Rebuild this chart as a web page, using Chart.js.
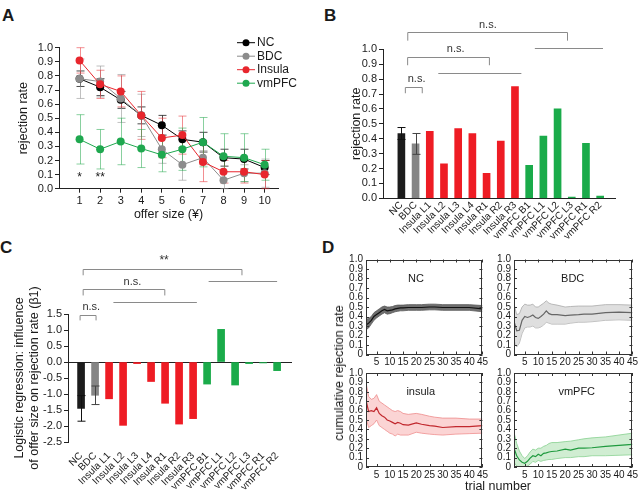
<!DOCTYPE html>
<html>
<head>
<meta charset="utf-8">
<script src="https://cdn.jsdelivr.net/npm/chart.js@4.4.0/dist/chart.umd.min.js"></script>
<style>
    html, body { margin: 0; padding: 0; background: #fff; }
    body { width: 640px; height: 493px; position: relative; overflow: hidden;
           font-family: "Liberation Sans", Arial, sans-serif; color: #1a1a1a; }
    canvas { position: absolute; }
    .lbl { position: absolute; white-space: nowrap; }
    .panel { font-weight: bold; font-size: 17px; }
    .axis { font-size: 12.5px; }
</style>
</head>
<body>
<div class="lbl panel" style="left:2px;top:6px">A</div>
<div class="lbl panel" style="left:324px;top:6px">B</div>
<div class="lbl panel" style="left:0px;top:238px">C</div>
<div class="lbl panel" style="left:322px;top:238px">D</div>

<canvas id="chartA" width="320" height="206" style="left:0;top:20px"></canvas>
<canvas id="chartB" width="320" height="222" style="left:320px;top:18px"></canvas>
<canvas id="chartC" width="320" height="248" style="left:0;top:245px"></canvas>
<canvas id="chartNC" width="147" height="120" style="left:343px;top:250px"></canvas>
<canvas id="chartBDC" width="150" height="120" style="left:490px;top:250px"></canvas>
<canvas id="chartInsula" width="147" height="121" style="left:343px;top:364px"></canvas>
<canvas id="chartVmpfc" width="150" height="121" style="left:490px;top:364px"></canvas>

<div class="lbl axis" style="left:339px;top:373px;transform:translate(-50%,-50%) rotate(-90deg)">cumulative rejection rate</div>
<div class="lbl axis" style="left:498px;top:486px;transform:translate(-50%,-50%)">trial number</div>

<script>
// ── Panel A: rejection rate by offer size ─────────────
const offerSizes = [1, 2, 3, 4, 5, 6, 7, 8, 9, 10];
const ncRate     = [0.78, 0.72, 0.63, 0.52, 0.45, 0.35, 0.33, 0.22, 0.21, 0.15];
const ncErr      = [0.055, 0.06, 0.06, 0.06, 0.07, 0.06, 0.07, 0.06, 0.07, 0.05];
const bdcRate    = [0.78, 0.76, 0.64, 0.52, 0.28, 0.17, 0.22, 0.06, 0.11, 0.11];
const bdcErr     = [0.14, 0.11, 0.17, 0.15, 0.10, 0.11, 0.05, 0.06, 0.06, 0.10];
const insulaRate = [0.91, 0.74, 0.69, 0.52, 0.36, 0.38, 0.19, 0.12, 0.12, 0.10];
const insulaErr  = [0.09, 0.10, 0.11, 0.17, 0.14, 0.135, 0.14, 0.08, 0.08, 0.10];
const vmpfcRate  = [0.35, 0.28, 0.335, 0.285, 0.24, 0.28, 0.33, 0.23, 0.22, 0.17];
const vmpfcErr   = [0.175, 0.14, 0.165, 0.135, 0.12, 0.15, 0.175, 0.16, 0.17, 0.11];

// ── Panels B & C: per-subject bars ────────────────────
const categories = ['NC', 'BDC', 'Insula L1', 'Insula L2', 'Insula L3', 'Insula L4',
    'Insula R1', 'Insula R2', 'Insula R3', 'vmPFC B1', 'vmPFC L1', 'vmPFC L2',
    'vmPFC L3', 'vmPFC R1', 'vmPFC R2'];
const groups = ['NC', 'BDC', 'Insula', 'Insula', 'Insula', 'Insula', 'Insula', 'Insula',
    'Insula', 'vmPFC', 'vmPFC', 'vmPFC', 'vmPFC', 'vmPFC', 'vmPFC'];
const meanRejection    = [0.435, 0.365, 0.45, 0.232, 0.468, 0.435, 0.168, 0.384, 0.75,
    0.221, 0.417, 0.60, 0.008, 0.369, 0.015];
const meanRejectionErr = [0.04, 0.07, null, null, null, null, null, null, null,
    null, null, null, null, null, null];
const beta1    = [-1.45, -1.04, -1.15, -1.98, -0.05, -0.61, -1.29, -1.94, -1.77,
    -0.69, 1.02, -0.72, -0.05, -0.03, -0.27];
const beta1Err = [0.40, 0.29, null, null, null, null, null, null, null,
    null, null, null, null, null, null];

// ── Panel D: cumulative rejection rate by trial ───────
const trials     = [1, 2, 3, 4, 5, 6, 7, 8, 9, 10, 11, 12, 13, 14, 15, 17, 20, 22, 25, 27, 30, 35, 40, 45];
const trialTicks = [5, 10, 15, 20, 25, 30, 35, 40, 45];
const ncCum      = [0.31, 0.33, 0.36, 0.40, 0.42, 0.44, 0.46, 0.475, 0.46, 0.465, 0.47, 0.48, 0.485, 0.49, 0.49, 0.495, 0.495, 0.495, 0.50, 0.50, 0.495, 0.495, 0.495, 0.48];
const ncCumHi    = [0.37, 0.38, 0.40, 0.44, 0.46, 0.48, 0.50, 0.51, 0.50, 0.50, 0.505, 0.515, 0.52, 0.52, 0.52, 0.525, 0.525, 0.525, 0.53, 0.53, 0.525, 0.525, 0.525, 0.515];
const ncCumLo    = [0.26, 0.28, 0.32, 0.36, 0.385, 0.405, 0.425, 0.44, 0.425, 0.43, 0.44, 0.45, 0.455, 0.46, 0.46, 0.465, 0.465, 0.465, 0.47, 0.47, 0.465, 0.465, 0.465, 0.45];
const bdcCum     = [0.35, 0.25, 0.255, 0.36, 0.40, 0.39, 0.40, 0.415, 0.39, 0.38, 0.40, 0.425, 0.46, 0.43, 0.42, 0.42, 0.41, 0.415, 0.42, 0.425, 0.425, 0.44, 0.445, 0.44];
const bdcCumHi   = [0.53, 0.42, 0.43, 0.50, 0.53, 0.52, 0.52, 0.53, 0.50, 0.50, 0.52, 0.54, 0.565, 0.54, 0.53, 0.52, 0.50, 0.505, 0.51, 0.51, 0.51, 0.525, 0.525, 0.52];
const bdcCumLo   = [0.15, 0.08, 0.12, 0.22, 0.28, 0.29, 0.29, 0.30, 0.28, 0.28, 0.29, 0.31, 0.34, 0.33, 0.32, 0.32, 0.32, 0.33, 0.34, 0.34, 0.345, 0.36, 0.365, 0.36];
const insulaCum   = [0.71, 0.59, 0.60, 0.59, 0.63, 0.57, 0.545, 0.53, 0.50, 0.49, 0.475, 0.46, 0.475, 0.465, 0.45, 0.445, 0.47, 0.455, 0.44, 0.435, 0.42, 0.43, 0.43, 0.44];
const insulaCumHi = [0.90, 0.75, 0.72, 0.73, 0.77, 0.70, 0.68, 0.66, 0.64, 0.62, 0.60, 0.59, 0.60, 0.59, 0.57, 0.56, 0.57, 0.56, 0.54, 0.53, 0.52, 0.52, 0.51, 0.51];
const insulaCumLo = [0.52, 0.42, 0.44, 0.46, 0.50, 0.44, 0.42, 0.40, 0.38, 0.36, 0.35, 0.33, 0.35, 0.34, 0.34, 0.34, 0.37, 0.36, 0.35, 0.345, 0.34, 0.35, 0.355, 0.36];
const vmpfcCum   = [0.20, 0.12, 0.075, 0.05, 0.04, 0.06, 0.095, 0.12, 0.11, 0.135, 0.12, 0.145, 0.15, 0.16, 0.165, 0.17, 0.19, 0.18, 0.20, 0.20, 0.205, 0.22, 0.23, 0.24];
const vmpfcCumHi = [0.37, 0.25, 0.17, 0.12, 0.09, 0.12, 0.16, 0.19, 0.18, 0.20, 0.20, 0.22, 0.23, 0.25, 0.26, 0.26, 0.27, 0.275, 0.29, 0.30, 0.31, 0.32, 0.34, 0.36];
const vmpfcCumLo = [0.05, 0.01, 0.0, 0.0, 0.0, 0.01, 0.03, 0.06, 0.05, 0.07, 0.06, 0.07, 0.075, 0.08, 0.08, 0.09, 0.10, 0.10, 0.11, 0.11, 0.12, 0.12, 0.125, 0.13];

(function () {
    'use strict';

    const FONT = '"Liberation Sans", Arial, Helvetica, sans-serif';
    Chart.defaults.font.family = FONT;
    Chart.defaults.color = '#1a1a1a';
    Chart.defaults.animation = false;

    const COLORS = {
        NC: '#1c1c1c', BDC: '#858585', Insula: '#ee1c24', vmPFC: '#1aab4a',
        axis: '#222', bracket: '#8a8a8a'
    };

    // ── shared plugins ────────────────────────────────
    function drawErrorBars(chart) {
        const { ctx, scales: { x, y } } = chart;
        chart.data.datasets.forEach(ds => {
            if (!ds.err) return;
            ctx.save();
            ctx.lineWidth = 1;
            ds.data.forEach((pt, i) => {
                const e = ds.err[i];
                if (e == null) return;
                const px = Math.round(x.getPixelForValue(pt.x)) + 0.5;
                const top = y.getPixelForValue(pt.y + e);
                const bot = y.getPixelForValue(pt.y - e);
                const cap = ds.errCap || 4;
                ctx.strokeStyle = Array.isArray(ds.errColor) ? ds.errColor[i] : ds.errColor;
                ctx.beginPath();
                ctx.moveTo(px, top); ctx.lineTo(px, bot);
                ctx.moveTo(px - cap, top); ctx.lineTo(px + cap, top);
                ctx.moveTo(px - cap, bot); ctx.lineTo(px + cap, bot);
                ctx.stroke();
            });
            ctx.restore();
        });
    }

    const errorBars = {
        id: 'errorBars',
        beforeDatasetsDraw(chart, args, opts) { if (opts.under) drawErrorBars(chart); },
        afterDatasetsDraw(chart, args, opts) { if (!opts.under) drawErrorBars(chart); }
    };

    // significance brackets, reference lines and free text, placed in data units
    const notes = {
        id: 'notes',
        beforeDatasetsDraw(chart, args, opts) {
            if (!opts.zeroLine) return;
            const { ctx, chartArea: a, scales: { y } } = chart;
            const py = Math.round(y.getPixelForValue(0)) + 0.5;
            ctx.save();
            ctx.strokeStyle = COLORS.axis; ctx.lineWidth = 1;
            ctx.beginPath(); ctx.moveTo(a.left, py); ctx.lineTo(a.right, py); ctx.stroke();
            ctx.restore();
        },
        afterDraw(chart, args, opts) {
            const { ctx, scales: { x, y } } = chart;
            ctx.save();
            ctx.lineWidth = 1;
            ctx.strokeStyle = COLORS.bracket;
            (opts.brackets || []).forEach(b => {
                const x1 = x.getPixelForValue(b.from), x2 = x.getPixelForValue(b.to);
                const py = Math.round(y.getPixelForValue(b.y)) + 0.5;
                ctx.beginPath();
                if (b.drop != null) {
                    const pd = y.getPixelForValue(b.drop);
                    ctx.moveTo(x1, pd); ctx.lineTo(x1, py); ctx.lineTo(x2, py); ctx.lineTo(x2, pd);
                } else {
                    ctx.moveTo(x1, py); ctx.lineTo(x2, py);
                }
                ctx.stroke();
            });
            ctx.textAlign = 'center';
            ctx.textBaseline = 'middle';
            (opts.texts || []).forEach(t => {
                ctx.fillStyle = t.color || '#333';
                ctx.font = (t.size || 11) + 'px ' + FONT;
                ctx.fillText(t.text, x.getPixelForValue(t.x), y.getPixelForValue(t.y));
            });
            ctx.restore();
        }
    };

    // ── Panel A ───────────────────────────────────────
    function buildOfferChart() {
        const series = [
            { label: 'NC', rates: ncRate, errs: ncErr, color: '#000', err: 'rgba(30,30,30,0.8)', order: 4 },
            { label: 'BDC', rates: bdcRate, errs: bdcErr, color: '#8c8c8c', err: 'rgba(150,150,150,0.6)', order: 3 },
            { label: 'Insula', rates: insulaRate, errs: insulaErr, color: '#e8262d', err: 'rgba(232,50,55,0.55)', order: 2 },
            { label: 'vmPFC', rates: vmpfcRate, errs: vmpfcErr, color: '#1fa84f', err: 'rgba(40,170,80,0.55)', order: 1 }
        ];

        const legendA = {
            id: 'legendA',
            afterDraw(chart) {
                const { ctx, chartArea: a } = chart;
                ctx.save();
                ctx.font = '12px ' + FONT;
                ctx.textBaseline = 'middle';
                series.forEach((s, i) => {
                    const yy = a.top - 5 + i * 13.5;
                    const x0 = a.right - 41;
                    ctx.strokeStyle = s.color; ctx.lineWidth = 1;
                    ctx.beginPath(); ctx.moveTo(x0, yy); ctx.lineTo(x0 + 18, yy); ctx.stroke();
                    ctx.fillStyle = s.color;
                    ctx.beginPath(); ctx.arc(x0 + 9, yy, 3.5, 0, Math.PI * 2); ctx.fill();
                    ctx.fillStyle = '#1a1a1a';
                    ctx.fillText(s.label, x0 + 20, yy);
                });
                ctx.restore();
            }
        };

        return new Chart(document.getElementById('chartA'), {
            type: 'line',
            data: {
                datasets: series.map(s => ({
                    label: s.label,
                    data: offerSizes.map((x, i) => ({ x, y: s.rates[i] })),
                    borderColor: s.color,
                    backgroundColor: s.color,
                    pointBackgroundColor: s.color,
                    err: s.errs, errColor: s.err, errCap: 4,
                    order: s.order
                }))
            },
            options: {
                responsive: false,
                layout: { padding: { top: 27.7, right: 42, left: 11.8 } },
                elements: { point: { radius: 4, borderWidth: 0 }, line: { borderWidth: 1, tension: 0 } },
                plugins: {
                    legend: { display: false },
                    tooltip: { enabled: false },
                    errorBars: { under: true },
                    notes: {
                        texts: [
                            { text: '*', x: 1, y: 0.075, size: 12, color: '#1a1a1a' },
                            { text: '**', x: 2, y: 0.075, size: 12, color: '#1a1a1a' }
                        ]
                    }
                },
                scales: {
                    x: {
                        type: 'linear', min: 0, max: 10.65,
                        afterBuildTicks: s => { s.ticks = offerSizes.map(v => ({ value: v })); },
                        afterFit: s => { s.height = 37.3; },
                        grid: { drawOnChartArea: false, tickLength: 4, color: COLORS.axis },
                        border: { color: COLORS.axis },
                        ticks: { font: { size: 11 }, padding: 2, autoSkip: false },
                        title: { display: true, text: 'offer size (¥)', font: { size: 12.5 }, padding: 4 }
                    },
                    y: {
                        min: 0, max: 1,
                        afterFit: s => { s.width = 47.2; },
                        grid: { drawOnChartArea: false, tickLength: 4, color: COLORS.axis },
                        border: { color: COLORS.axis },
                        ticks: { stepSize: 0.1, autoSkip: false, font: { size: 11 }, padding: 2, callback: v => v.toFixed(1) },
                        title: { display: true, text: 'rejection rate', font: { size: 12.5 }, padding: 4 }
                    }
                }
            },
            plugins: [errorBars, notes, legendA]
        });
    }

    // ── Panels B & C: bar charts on an index axis ─────
    function buildSubjectBars(id, values, errs, opts) {
        const barColors = groups.map(g => COLORS[g]);
        return new Chart(document.getElementById(id), {
            type: 'bar',
            data: {
                datasets: [{
                    data: values.map((v, i) => ({ x: i, y: v })),
                    backgroundColor: barColors,
                    borderWidth: 0,
                    barThickness: 7,
                    err: errs,
                    errColor: ['#111', '#444'],
                    errCap: 4
                }]
            },
            options: {
                responsive: false,
                layout: { padding: opts.padding },
                plugins: {
                    legend: { display: false },
                    tooltip: { enabled: false },
                    errorBars: { under: false },
                    notes: { brackets: opts.brackets, texts: opts.texts, zeroLine: opts.zeroLine }
                },
                scales: {
                    x: {
                        type: 'linear', min: opts.xMin, max: opts.xMax,
                        afterBuildTicks: s => { s.ticks = categories.map((_, i) => ({ value: i })); },
                        afterFit: s => { s.height = opts.xHeight; },
                        grid: { display: false, drawTicks: false },
                        border: { display: opts.xBorder, color: COLORS.axis },
                        ticks: {
                            autoSkip: false, maxRotation: 45, minRotation: 45,
                            font: { size: 10 }, padding: opts.xPad,
                            callback: v => categories[v]
                        }
                    },
                    y: {
                        min: opts.yMin, max: opts.yMax,
                        afterFit: s => { s.width = opts.yWidth; },
                        grid: { drawOnChartArea: false, tickLength: 4, color: COLORS.axis },
                        border: { color: COLORS.axis },
                        ticks: { stepSize: opts.yStep, autoSkip: false, font: { size: 11 }, padding: 2, callback: v => v.toFixed(1) },
                        title: { display: true, text: opts.yTitle, font: { size: 12.5 }, padding: 4 }
                    }
                }
            },
            plugins: [errorBars, notes]
        });
    }

    // ── Panel D: cumulative rate with band ────────────
    const frame = {
        id: 'frame',
        afterDraw(chart) {
            const { ctx, chartArea: a, scales: { x, y } } = chart;
            ctx.save();
            ctx.strokeStyle = '#333';
            ctx.lineWidth = 1;
            ctx.strokeRect(Math.round(a.left) + 0.5, Math.round(a.top) + 0.5,
                Math.round(a.width) - 1, Math.round(a.height) - 1);
            ctx.beginPath();
            x.ticks.forEach(t => {
                const px = Math.round(x.getPixelForValue(t.value)) + 0.5;
                ctx.moveTo(px, a.bottom); ctx.lineTo(px, a.bottom - 3);
                ctx.moveTo(px, a.top); ctx.lineTo(px, a.top + 3);
            });
            y.ticks.forEach(t => {
                const py = Math.round(y.getPixelForValue(t.value)) + 0.5;
                ctx.moveTo(a.left, py); ctx.lineTo(a.left + 3, py);
                ctx.moveTo(a.right, py); ctx.lineTo(a.right - 3, py);
            });
            ctx.stroke();
            ctx.restore();
        }
    };

    function buildCumulative(id, name, mean, hi, lo, style, layout) {
        const pts = arr => trials.map((t, i) => ({ x: t, y: arr[i] }));
        return new Chart(document.getElementById(id), {
            type: 'line',
            data: {
                datasets: [
                    { data: pts(mean), borderColor: style.line, borderWidth: 1.2, pointRadius: 0, fill: false },
                    { data: pts(hi), borderColor: style.edge, borderWidth: 0.8, pointRadius: 0,
                      backgroundColor: style.band, fill: '+1' },
                    { data: pts(lo), borderColor: style.edge, borderWidth: 0.8, pointRadius: 0, fill: false }
                ]
            },
            options: {
                responsive: false,
                layout: { padding: { top: layout.top, right: layout.right } },
                elements: { line: { tension: 0 } },
                plugins: {
                    legend: { display: false },
                    tooltip: { enabled: false },
                    notes: { texts: [{ text: name, x: style.nameX, y: 0.8, size: 11, color: '#1a1a1a' }] }
                },
                scales: {
                    x: {
                        type: 'linear', min: 1, max: 45,
                        afterBuildTicks: s => { s.ticks = trialTicks.map(v => ({ value: v })); },
                        afterFit: s => { s.height = layout.xHeight; },
                        grid: { display: false, drawTicks: false },
                        border: { display: false },
                        ticks: { font: { size: 10 }, padding: 2, maxRotation: 0, autoSkip: false }
                    },
                    y: {
                        min: 0, max: 1,
                        afterFit: s => { s.width = layout.yWidth; },
                        grid: { display: false, drawTicks: false },
                        border: { display: false },
                        ticks: { stepSize: 0.1, autoSkip: false, font: { size: 10 }, padding: 3 }
                    }
                }
            },
            plugins: [notes, frame]
        });
    }

    buildOfferChart();

    buildSubjectBars('chartB', meanRejection, meanRejectionErr, {
        padding: { top: 31.3, right: 25, left: 25.5 },
        xMin: -0.75, xMax: 14.5, xHeight: 41.7, xBorder: true, xPad: 1,
        yMin: 0, yMax: 1, yStep: 0.1, yWidth: 37.5, yTitle: 'rejection rate',
        brackets: [
            { from: 0.45, to: 11.7, y: 1.115, drop: 1.058 },
            { from: 9.4, to: 14.2, y: 1.008 },
            { from: 0.44, to: 6.2, y: 0.949, drop: 0.893 },
            { from: 2.6, to: 8.45, y: 0.84 },
            { from: 0.28, to: 1.47, y: 0.75, drop: 0.705 }
        ],
        texts: [
            { text: 'n.s.', x: 6.09, y: 1.163 },
            { text: 'n.s.', x: 3.82, y: 1.0 },
            { text: 'n.s.', x: 1.07, y: 0.804 }
        ]
    });

    buildSubjectBars('chartC', beta1, beta1Err, {
        padding: { top: 69, right: 28, left: 8 },
        xMin: -0.4, xMax: 14.53, xHeight: 51, xBorder: false, xPad: 8, zeroLine: true,
        yMin: -2.5, yMax: 1.5, yStep: 0.5, yWidth: 60,
        yTitle: ['Logistic regression: influence', 'of offer size on rejection rate (\u03B21)'],
        brackets: [
            { from: 0.15, to: 11.49, y: 2.92, drop: 2.71 },
            { from: 9.11, to: 14.0, y: 2.53 },
            { from: 0.15, to: 5.98, y: 2.28, drop: 2.08 },
            { from: 2.31, to: 8.27, y: 1.86 },
            { from: -0.07, to: 1.07, y: 1.46, drop: 1.30 }
        ],
        texts: [
            { text: '**', x: 5.93, y: 3.16, size: 12 },
            { text: 'n.s.', x: 3.67, y: 2.5 },
            { text: 'n.s.', x: 0.73, y: 1.72 }
        ]
    });

    const topRow = { top: 9.5, xHeight: 15.5 };
    const botRow = { top: 9, xHeight: 18 };
    buildCumulative('chartNC', 'NC', ncCum, ncCumHi, ncCumLo,
        { line: '#111', edge: '#555', band: 'rgba(95,95,95,0.9)', nameX: 19.9 },
        Object.assign({ right: 3, yWidth: 23 }, topRow));
    buildCumulative('chartBDC', 'BDC', bdcCum, bdcCumHi, bdcCumLo,
        { line: '#666', edge: '#aaa', band: 'rgba(210,210,210,0.7)', nameX: 22.8 },
        Object.assign({ right: 7, yWidth: 24 }, topRow));
    buildCumulative('chartInsula', 'insula', insulaCum, insulaCumHi, insulaCumLo,
        { line: '#c1272d', edge: '#ee8a8a', band: 'rgba(246,160,160,0.45)', nameX: 21.7 },
        Object.assign({ right: 3, yWidth: 23 }, botRow));
    buildCumulative('chartVmpfc', 'vmPFC', vmpfcCum, vmpfcCumHi, vmpfcCumLo,
        { line: '#1f9a3e', edge: '#86d08f', band: 'rgba(150,215,155,0.45)', nameX: 24.3 },
        Object.assign({ right: 7, yWidth: 24 }, botRow));
})();
</script>
</body>
</html>
